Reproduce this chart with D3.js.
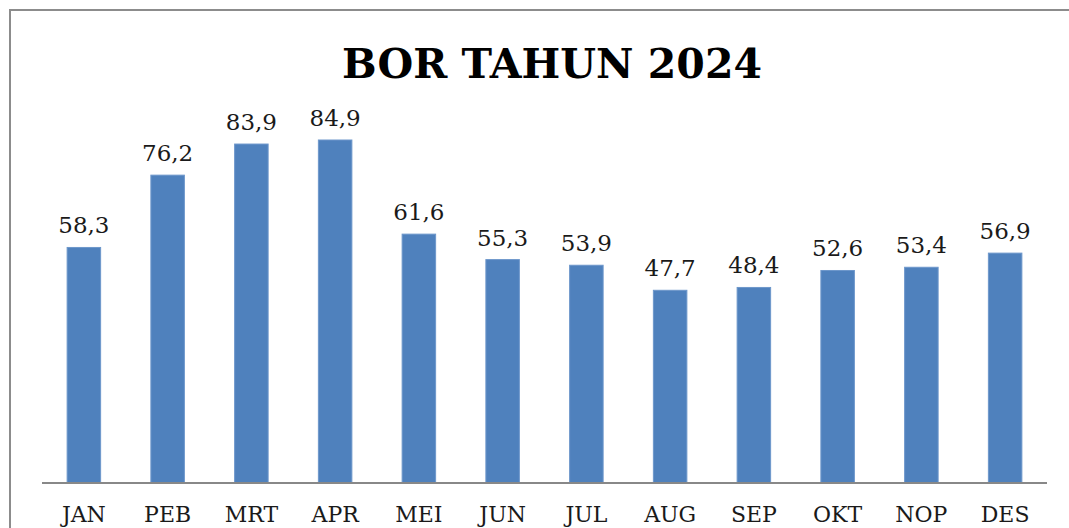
<!DOCTYPE html>
<html>
<head>
<meta charset="utf-8">
<script src="https://cdn.jsdelivr.net/npm/d3@7"></script>
<style>
  body { margin: 0; background: #fff; }
  svg { display: block; }
</style>
</head>
<body>
<svg id="chart"></svg>
<script>
var months = ["JAN", "PEB", "MRT", "APR", "MEI", "JUN", "JUL", "AUG", "SEP", "OKT", "NOP", "DES"];
var bor = [58.3, 76.2, 83.9, 84.9, 61.6, 55.3, 53.9, 47.7, 48.4, 52.6, 53.4, 56.9];
var title = "BOR TAHUN 2024";

var w = 1069;
var h = 528;
var svg = d3.select("#chart")
            .attr("width", w)
            .attr("height", h);

// outer frame of the chart area (right and bottom run off the picture)
svg.append("rect")
  .attr("x", 10)
  .attr("y", 10)
  .attr("width", w + 20)
  .attr("height", h + 20)
  .style("fill", "none")
  .style("stroke", "#8c8c8c")
  .style("stroke-width", 2);

var left = 42, right = 1047, base = 483;

var x = d3.scaleBand()
  .domain(months)
  .range([left, right])
  .paddingInner(0.6)
  .paddingOuter(0.3);

var y = d3.scaleLinear()
  .domain([0, 100])
  .range([base, base - 404]);

svg.selectAll("rect.bar")
  .data(bor)
  .enter()
  .append("rect")
    .attr("class", "bar")
    .attr("x", function(d, i){ return x(months[i]); })
    .attr("y", function(d){ return y(d); })
    .attr("width", x.bandwidth())
    .attr("height", function(d){ return base - y(d); })
    .style("fill", "#4f81bd")
    .style("stroke", "#6d97cb")
    .style("stroke-width", 1);

// value labels
svg.selectAll("text.val")
  .data(bor)
  .enter()
  .append("text")
    .attr("class", "val")
    .attr("x", function(d, i){ return x(months[i]) + x.bandwidth() / 2; })
    .attr("y", function(d){ return y(d) - 14; })
    .attr("text-anchor", "middle")
    .style("font-family", "'DejaVu Serif', serif")
    .style("font-size", "23px")
    .style("fill", "#1a1a1a")
    .text(function(d){ return d.toFixed(1).replace(".", ","); });

// category axis
var xAxis = d3.axisBottom(x).tickSize(0).tickPadding(23);
var g = svg.append("g")
  .attr("transform", "translate(0," + base + ")")
  .call(xAxis);
g.select(".domain")
  .attr("d", "M" + left + ",0H" + right)
  .style("stroke", "#888")
  .style("stroke-width", 2);
g.selectAll("text")
  .style("font-family", "'DejaVu Serif', serif")
  .style("font-size", "22px")
  .style("fill", "#1a1a1a");

svg.append("text")
  .attr("x", 552)
  .attr("y", 78)
  .attr("text-anchor", "middle")
  .style("font-family", "'DejaVu Serif', serif")
  .style("font-weight", "bold")
  .style("font-size", "41px")
  .style("fill", "#000")
  .text(title);
</script>
</body>
</html>
